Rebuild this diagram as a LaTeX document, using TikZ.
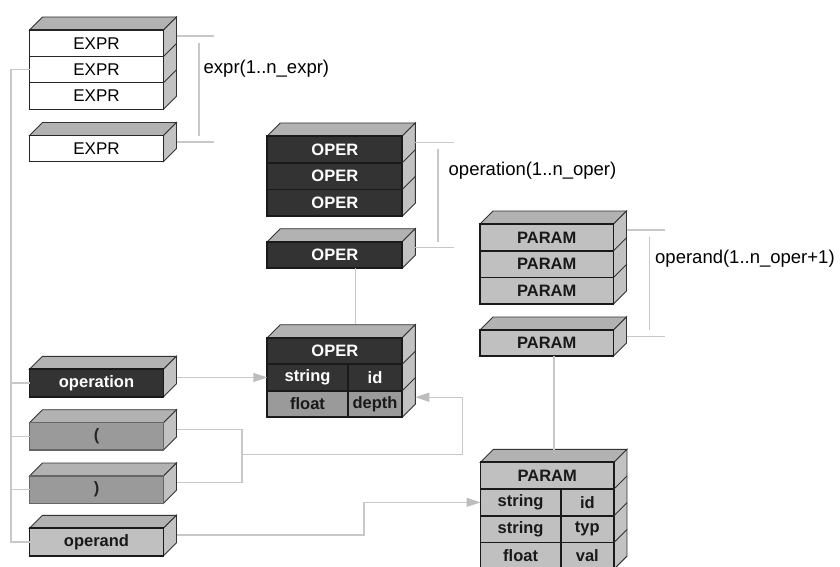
\documentclass[tikz,border=0pt]{standalone}
\usepackage{fontspec}
\setmainfont{Liberation Sans}
\usetikzlibrary{calc,arrows.meta}
\pgfdeclarelayer{bg}
\pgfsetlayers{bg,main}
\definecolor{operdark}{HTML}{333333}
\definecolor{paramgray}{HTML}{C0C0C0}
\definecolor{parengray}{HTML}{9A9A9A}
\definecolor{topgray}{HTML}{B2B2B2}
\definecolor{sidegray}{HTML}{C2C2C2}
\definecolor{conncol}{HTML}{C8C8C8}
\definecolor{arrcol}{HTML}{BDBDBD}
\definecolor{edgecol}{HTML}{1A1A1A}
\tikzset{
  face/.style={draw=edgecol, line width=1.7pt, inner sep=0pt, outer sep=0pt,
    anchor=north west, font=\bfseries\fontsize{16.5}{17}\selectfont},
  exprbox/.style={face, fill=white, line width=1.2pt, draw=black!85,
    font=\fontsize{17}{17}\selectfont, minimum width=134pt},
  operbox/.style={face, fill=operdark, text=white},
  lightbox/.style={face, fill=paramgray, text=black!90},
  midbox/.style={face, fill=parengray, text=black!90},
  parenbox/.style={face, fill=parengray, draw=black!60, line width=1.1pt, text=black!85},
  topface/.style={fill=topgray, draw=black!80, line width=0.9pt},
  sideface/.style={fill=sidegray, draw=black!80, line width=0.9pt},
  sideedge/.style={draw=black!80, line width=0.9pt},
  conn/.style={draw=conncol, line width=1.4pt},
  arr/.style={conn, -{Triangle[length=14pt,width=9pt,fill=arrcol,color=arrcol]}},
  lbl/.style={anchor=west, inner sep=0pt, font=\fontsize{18.5}{19}\selectfont},
}
% top and side faces of a block whose front runs from node #1 (top) to node #2 (bottom right)
\newcommand{\blockfaces}[3]{%
  \begin{pgfonlayer}{bg}
  \filldraw[topface] (#1.north west) -- ++(13,-13) -- ($(#3.north east)+(13,-13)$) -- (#3.north east) -- cycle;
  \filldraw[sideface] (#3.north east) -- ++(13,-13) -- ($(#2.south east)+(13,-13)$) -- (#2.south east) -- cycle;
  \end{pgfonlayer}}
\begin{document}
\begin{tikzpicture}[x=1pt,y=-1pt]
\useasboundingbox (0,0) rectangle (840,567);

% ---------- EXPR ----------
\node[exprbox, minimum height=26.4pt] (e1) at (29.5,30) {EXPR};
\node[exprbox, minimum height=26.4pt] (e2) at (e1.south west) {EXPR};
\node[exprbox, minimum height=26.4pt] (e3) at (e2.south west) {EXPR};
\blockfaces{e1}{e3}{e1}
\draw[sideedge] (e1.south east) -- ++(13,-13);
\draw[sideedge] (e2.south east) -- ++(13,-13);
\node[exprbox, minimum height=26pt] (e4) at (29.5,135.5) {EXPR};
\blockfaces{e4}{e4}{e4}

% ---------- OPER ----------
\node[operbox, minimum width=135pt, minimum height=26.7pt] (o1) at (267.3,136) {OPER};
\node[operbox, minimum width=135pt, minimum height=26.7pt] (o2) at (o1.south west) {OPER};
\node[operbox, minimum width=135pt, minimum height=26.7pt] (o3) at (o2.south west) {OPER};
\blockfaces{o1}{o3}{o1}
\draw[sideedge] (o1.south east) -- ++(13,-13);
\draw[sideedge] (o2.south east) -- ++(13,-13);
\node[operbox, minimum width=135pt, minimum height=26.6pt] (o4) at (267.3,241.7) {OPER};
\blockfaces{o4}{o4}{o4}

% OPER detail
\node[operbox, minimum width=135pt, minimum height=26.5pt] (od1) at (267.3,337.7) {OPER};
\node[operbox, minimum width=80.4pt, minimum height=26.5pt] (od2a) at (od1.south west) {string};
\node[operbox, minimum width=54.6pt, minimum height=26.5pt] (od2b) at (od2a.north east) {id};
\node[midbox, minimum width=80.4pt, minimum height=26.5pt] (od3a) at (od2a.south west) {float};
\node[midbox, minimum width=54.6pt, minimum height=26.5pt] (od3b) at (od3a.north east) {depth};
\blockfaces{od1}{od3b}{od1}
\draw[sideedge] (od1.south east) -- ++(13,-13);
\draw[sideedge] (od2b.south east) -- ++(13,-13);

% ---------- PARAM ----------
\node[lightbox, minimum width=133.5pt, minimum height=26.7pt] (p1) at (480,224) {PARAM};
\node[lightbox, minimum width=133.5pt, minimum height=26.7pt] (p2) at (p1.south west) {PARAM};
\node[lightbox, minimum width=133.5pt, minimum height=26.7pt] (p3) at (p2.south west) {PARAM};
\blockfaces{p1}{p3}{p1}
\draw[sideedge] (p1.south east) -- ++(13,-13);
\draw[sideedge] (p2.south east) -- ++(13,-13);
\node[lightbox, minimum width=133.5pt, minimum height=26pt] (p4) at (480,330) {PARAM};
\blockfaces{p4}{p4}{p4}

% PARAM detail
\node[lightbox, minimum width=133.5pt, minimum height=26.7pt] (pd1) at (480.5,462.3) {PARAM};
\node[lightbox, minimum width=80.2pt, minimum height=26.7pt] (pd2a) at (pd1.south west) {string};
\node[lightbox, minimum width=53.3pt, minimum height=26.7pt] (pd2b) at (pd2a.north east) {id};
\node[lightbox, minimum width=80.2pt, minimum height=26.7pt] (pd3a) at (pd2a.south west) {string};
\node[lightbox, minimum width=53.3pt, minimum height=26.7pt] (pd3b) at (pd3a.north east) {typ};
\node[lightbox, minimum width=80.2pt, minimum height=26.7pt] (pd4a) at (pd3a.south west) {float};
\node[lightbox, minimum width=53.3pt, minimum height=26.7pt] (pd4b) at (pd4a.north east) {val};
\blockfaces{pd1}{pd4b}{pd1}
\draw[sideedge] (pd1.south east) -- ++(13,-13);
\draw[sideedge] (pd2b.south east) -- ++(13,-13);
\draw[sideedge] (pd3b.south east) -- ++(13,-13);

% ---------- left blocks ----------
\node[operbox, minimum width=134pt, minimum height=27.4pt] (op) at (29.5,369.3) {operation};
\blockfaces{op}{op}{op}
\node[parenbox, minimum width=134pt, minimum height=27.3pt] (pl) at (29.5,422.7) {(};
\blockfaces{pl}{pl}{pl}
\node[parenbox, minimum width=134pt, minimum height=27.3pt] (pr) at (29.5,476) {)};
\blockfaces{pr}{pr}{pr}
\node[lightbox, minimum width=134pt, minimum height=27.5pt] (opd) at (29.5,528.3) {operand};
\blockfaces{opd}{opd}{opd}

% ---------- labels ----------
\node[lbl] (lexpr) at (203.5,69) {expr(1..n\_expr)};
\node[lbl] (loper) at (448.5,171) {operation(1..n\_oper)};
\node[lbl] (lparam) at (655,258.5) {operand(1..n\_oper+1)};

% ---------- bracket connectors ----------
\coordinate (eA) at ($(e1.north east)+(13,6)$);
\coordinate (eB) at ($(e4.north east)+(13,6.5)$);
\coordinate (eV1) at (199,43);
\coordinate (eV2) at (199,136);
\draw[conn] (eA) -- ++(37,0);
\draw[conn] (eB) -- ++(37,0);
\draw[conn] (eV1) -- (eV2);

\coordinate (oA) at ($(o1.north east)+(13,6.7)$);
\coordinate (oB) at ($(o4.north east)+(13,6)$);
\coordinate (oV1) at (438,149);
\coordinate (oV2) at (438,241.7);
\draw[conn] (oA) -- ++(38.5,0);
\draw[conn] (oB) -- ++(38.5,0);
\draw[conn] (oV1) -- (oV2);

\coordinate (pA) at ($(p1.north east)+(13,6)$);
\coordinate (pB) at ($(p4.north east)+(13,6.7)$);
\coordinate (pV1) at (649.3,236.7);
\coordinate (pV2) at (649.3,330);
\draw[conn] (pA) -- ++(38.5,0);
\draw[conn] (pB) -- ++(38.5,0);
\draw[conn] (pV1) -- (pV2);

% ---------- vertical links ----------
\coordinate (odTop) at ($(od1.north west)+(88,-13.4)$);
\draw[conn] (o4.south west -| odTop) -- (odTop);
\coordinate (pdTop) at ($(pd1.north west)+(73.5,-12.3)$);
\draw[conn] (p4.south west -| pdTop) -- (pdTop);

% ---------- left spine ----------
\coordinate (spine) at (11,0);
\draw[conn] (e2.west) -- (e2.west -| spine) -- (opd.west -| spine) -- (opd.west);
\draw[conn] (op.west -| spine) -- (op.west);
\draw[conn] (pl.west -| spine) -- (pl.west);
\draw[conn] (pr.west -| spine) -- (pr.west);

% ---------- arrows ----------
\coordinate (opR) at ($(op.north east)+(13,7.4)$);
\draw[arr] (od2a.west -| opR) -- (od2a.west);

\coordinate (plR) at ($(pl.north east)+(13,6.6)$);
\coordinate (prR) at ($(pr.north east)+(13,6.7)$);
\coordinate (jx) at (242,0);
\draw[conn] (plR) -- (plR -| jx) -- (prR -| jx) -- (prR);
\coordinate (jm) at (242,454.3);
\coordinate (rx) at (462.7,0);
\coordinate (odS) at ($(od3b.north east)+(13,6.5)$);
\draw[arr] (jm) -- (jm -| rx) -- (odS -| rx) -- (odS);

\coordinate (opdR) at ($(opd.north east)+(13,6.7)$);
\coordinate (kx) at (364,0);
\draw[arr] (opdR) -- (opdR -| kx) -- (pd2a.west -| kx) -- (pd2a.west);
\end{tikzpicture}
\end{document}
